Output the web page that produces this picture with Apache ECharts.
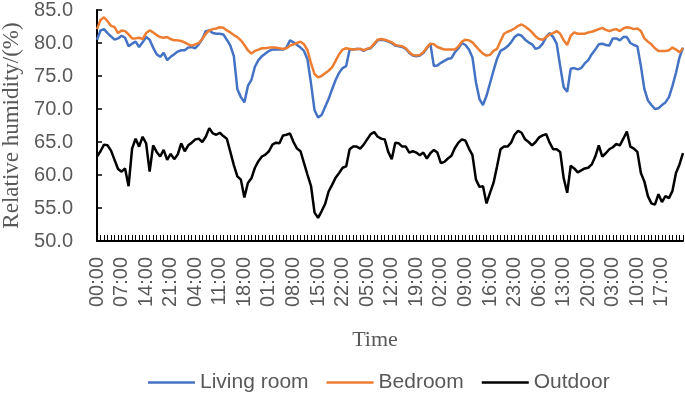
<!DOCTYPE html>
<html>
<head>
<meta charset="utf-8">
<script src="https://cdn.jsdelivr.net/npm/echarts@6/dist/echarts.min.js"></script>
<style>
  html, body { margin: 0; padding: 0; background: #fff; }
  #chart { width: 685px; height: 394px; }
</style>
</head>
<body>
<div id="chart"></div>
<script>
// hourly readings over 7 days, starting at 00:00
var hours = [];
for (var d = 0; d < 7; d++) {
    for (var h = 0; h < 24; h++) {
        hours.push((h < 10 ? '0' : '') + h + ':00');
    }
}

var livingRoom = [
    80.5, 81.9, 82.1, 81.5, 81.0, 80.5, 80.7, 81.1, 80.8, 79.5, 79.9, 80.2, 79.4, 80.1, 80.9, 80.5,
    79.3, 78.3, 77.9, 78.5, 77.4, 77.9, 78.3, 78.7, 78.9, 78.9, 79.3, 79.4, 79.2, 79.8, 80.6, 81.8,
    81.9, 81.5, 81.4, 81.4, 81.3, 80.5, 79.6, 78.0, 73.0, 71.8, 71.0, 73.5, 74.4, 76.4, 77.4, 78.0,
    78.4, 78.8, 79.0, 79.0, 79.0, 79.0, 79.3, 80.4, 80.1, 79.7, 79.3, 78.8, 77.5, 73.8, 69.8, 68.7,
    69.1, 70.3, 71.5, 73.0, 74.4, 75.5, 76.2, 76.5, 79.0, 79.0, 79.1, 79.1, 78.8, 79.1, 79.2, 79.8,
    80.4, 80.5, 80.4, 80.2, 80.0, 79.6, 79.5, 79.4, 79.1, 78.5, 78.1, 78.0, 78.1, 78.5, 79.2, 79.9,
    76.5, 76.6, 77.0, 77.3, 77.6, 77.7, 78.6, 79.2, 80.0, 79.7, 79.0, 77.8, 74.0, 71.5, 70.6, 72.0,
    73.9, 75.8, 77.6, 78.8, 79.1, 79.5, 80.1, 80.9, 81.3, 81.1, 80.5, 80.1, 79.8, 79.1, 79.3, 79.9,
    80.9, 81.5, 80.9, 79.9, 76.5, 73.3, 72.6, 76.1, 76.2, 76.0, 76.2, 76.9, 77.4, 78.3, 79.0, 79.8,
    79.9, 79.7, 79.6, 80.7, 80.7, 80.4, 80.9, 80.9, 80.0, 79.7, 79.5, 76.5, 73.0, 71.3, 70.6, 70.0,
    70.1, 70.6, 71.0, 71.8, 73.5, 75.5, 77.8, 79.3
];

var bedroom = [
    82.1, 83.5, 83.9, 83.3, 82.6, 82.4, 81.5, 81.9, 81.8, 81.3, 80.7, 80.7, 80.8, 80.6, 81.5, 81.9,
    81.6, 81.2, 80.9, 80.8, 80.9, 80.6, 80.4, 80.4, 80.3, 80.1, 79.8, 79.6, 79.8, 80.0, 80.6, 81.4,
    81.9, 82.1, 82.2, 82.4, 82.3, 81.9, 81.6, 81.2, 80.9, 80.4, 79.7, 78.9, 78.4, 78.8, 79.0, 79.2,
    79.2, 79.3, 79.3, 79.3, 79.2, 79.1, 79.2, 79.6, 79.8, 80.0, 80.2, 79.8, 78.9, 76.9, 75.3, 74.8,
    75.0, 75.4, 75.8, 76.3, 77.3, 78.3, 79.0, 79.2, 79.1, 79.0, 79.1, 79.1, 78.9, 79.1, 79.3, 79.9,
    80.5, 80.6, 80.5, 80.3, 80.1, 79.7, 79.6, 79.5, 79.2, 78.6, 78.2, 78.1, 78.2, 78.6, 79.3, 79.9,
    79.8, 79.4, 79.2, 79.0, 79.0, 79.0, 79.0, 79.5, 80.2, 80.5, 80.4, 80.1, 79.5, 78.9, 78.4, 78.1,
    78.2, 78.8, 79.1, 80.3, 81.4, 81.7, 81.9, 82.2, 82.6, 82.8, 82.5, 82.1, 81.6, 81.0, 80.6, 80.5,
    80.9, 81.3, 81.5, 81.8, 81.4, 80.4, 79.7, 81.1, 81.6, 81.4, 81.4, 81.4, 81.6, 81.7, 81.9, 82.1,
    82.3, 82.0, 81.8, 82.0, 82.1, 81.8, 82.2, 82.4, 82.3, 82.1, 82.2, 81.8, 80.7, 80.2, 79.8, 79.2,
    78.8, 78.8, 78.8, 78.9, 79.3, 79.0, 78.6, 79.2
];

var outdoor = [
    62.8, 63.6, 64.6, 64.5, 63.7, 62.3, 60.9, 60.5, 61.0, 58.3, 64.0, 65.5, 64.3, 65.8, 64.8, 60.5,
    64.5, 63.5, 62.8, 63.8, 62.3, 63.2, 62.4, 63.1, 64.8, 63.6, 64.5, 64.9, 65.4, 65.5, 65.0, 65.8,
    67.1, 66.3, 66.1, 66.4, 65.9, 65.5, 63.5, 61.5, 59.8, 59.3, 56.6, 58.8, 59.5, 61.1, 62.1, 62.8,
    63.1, 63.6, 64.6, 64.9, 64.8, 66.0, 66.1, 66.3, 65.0, 64.0, 63.6, 61.8, 60.0, 58.3, 54.3, 53.5,
    54.5, 55.6, 57.5, 58.5, 59.6, 60.3, 61.1, 61.3, 63.9, 64.3, 64.3, 64.0, 64.6, 65.4, 66.2, 66.5,
    65.8, 65.5, 65.4, 63.5, 62.4, 64.9, 64.8, 64.3, 64.3, 63.4, 63.6, 63.4, 63.0, 63.4, 62.5, 63.3,
    63.8, 63.4, 61.8, 62.0, 62.5, 62.9, 64.1, 64.9, 65.4, 65.2, 64.0, 63.0, 59.3, 58.2, 58.3, 55.7,
    57.3, 58.8, 61.3, 63.9, 64.3, 64.3, 64.9, 66.1, 66.7, 66.4, 65.4, 65.0, 64.5, 65.0, 65.7, 66.0,
    66.2, 64.9, 63.9, 63.9, 63.5, 59.5, 57.3, 61.4, 61.0, 60.4, 60.7, 61.0, 61.1, 61.6, 62.8, 64.5,
    62.8, 63.3, 63.9, 64.2, 64.7, 64.5, 65.5, 66.6, 64.3, 64.0, 63.5, 60.3, 59.0, 56.8, 55.7, 55.5,
    57.1, 55.9, 56.8, 56.5, 57.6, 60.3, 61.6, 63.3
];

var chart = echarts.init(document.getElementById('chart'));

var labelColor = '#595959';

var option = {
    animation: false,
    color: ['#4472C4', '#ED7D31', '#000000'],
    grid: { left: 97, right: 2, top: 10, bottom: 153, containLabel: false, outerBoundsMode: 'none' },
    legend: {
        left: 143,
        top: 367,
        icon: 'rect',
        itemWidth: 47,
        itemHeight: 2.5,
        itemGap: 18,
        textStyle: { fontFamily: 'Liberation Sans', fontSize: 21, color: labelColor },
        data: ['Living room', 'Bedroom', 'Outdoor']
    },
    xAxis: {
        type: 'category',
        data: hours,
        boundaryGap: false,
        name: 'Time',
        nameLocation: 'middle',
        nameGap: 88,
        nameTextStyle: { fontFamily: 'Liberation Serif', fontSize: 22, color: labelColor, padding: [0, 30, 0, 0] },
        axisLine: { lineStyle: { color: '#000', width: 2 } },
        axisTick: { inside: true, length: 6, interval: 0, lineStyle: { color: '#000', width: 1 } },
        axisLabel: {
            interval: 6,
            rotate: 90,
            margin: 16,
            fontFamily: 'Liberation Sans',
            fontSize: 20,
            color: labelColor
        },
        splitLine: { show: false }
    },
    yAxis: {
        type: 'value',
        min: 50,
        max: 85,
        interval: 5,
        name: 'Relative humidity/(%)',
        nameLocation: 'middle',
        nameGap: 74,
        nameTextStyle: { fontFamily: 'Liberation Serif', fontSize: 23, color: labelColor },
        axisLine: { show: true, lineStyle: { color: '#000', width: 2 } },
        axisTick: { show: true, inside: true, length: 5, lineStyle: { color: '#000', width: 1.5 } },
        axisLabel: {
            margin: 24,
            fontFamily: 'Liberation Sans',
            fontSize: 20,
            color: labelColor,
            formatter: function (v) { return v.toFixed(1); }
        },
        splitLine: { show: false }
    },
    series: [
        { name: 'Living room', type: 'line', data: livingRoom, symbol: 'none', lineStyle: { width: 2.5 } },
        { name: 'Bedroom', type: 'line', data: bedroom, symbol: 'none', lineStyle: { width: 2.5 } },
        { name: 'Outdoor', type: 'line', data: outdoor, symbol: 'none', lineStyle: { width: 2.5 } }
    ]
};

chart.setOption(option);
</script>
</body>
</html>
